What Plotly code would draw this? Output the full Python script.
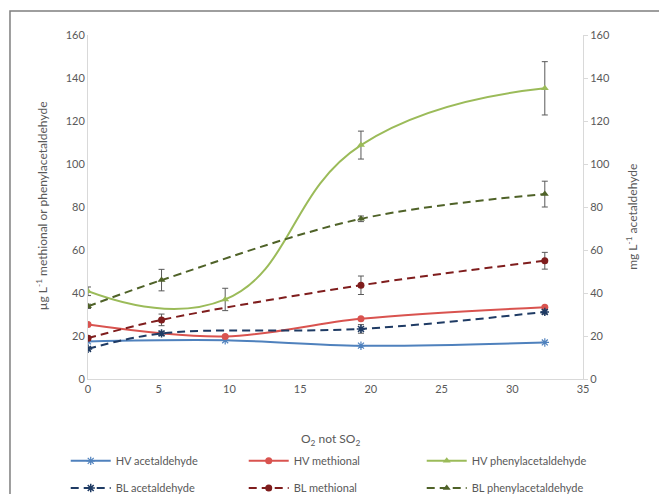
import plotly.graph_objects as go

x_hv = [0, 9.7, 19.3, 32.3]
x_bl = [0, 5.2, 19.3, 32.3]

hv_acet = [17.5, 18.0, 15.5, 17.0]
hv_meth = [25.3, 19.8, 28.0, 33.4]
hv_phen = [40.8, 37.0, 108.8, 135.2]
hv_phen_err = [2.0, 5.2, 6.5, 12.4]

bl_acet = [14.0, 21.2, 23.3, 31.2]
bl_acet_err = [0.8, 1.0, 2.0, 1.0]
bl_meth = [19.0, 27.5, 43.6, 55.0]
bl_meth_err = [1.0, 2.7, 4.3, 3.9]
bl_phen = [33.8, 46.0, 74.5, 86.0]
bl_phen_err = [1.0, 5.0, 1.3, 6.0]

names = ["HV acetaldehyde", "HV methional", "HV phenylacetaldehyde",
         "BL acetaldehyde", "BL methional", "BL phenylacetaldehyde"]

c_hv_acet = "#4f81bd"
c_hv_meth = "#d9534f"
c_hv_phen = "#9bbb59"
c_bl_acet = "#1f3b64"
c_bl_meth = "#7f1d1d"
c_bl_phen = "#4f6228"
err_col = "#595959"
dash = "8px,5px"

fig = go.Figure()

def err(vals):
    return dict(type="data", array=vals, visible=True, color=err_col, thickness=1, width=3)

fig.add_trace(go.Scatter(x=x_hv, y=hv_acet, name=names[0], mode="lines+markers", legend="legend",
                         line=dict(color=c_hv_acet, width=2, shape="spline", smoothing=1),
                         marker=dict(symbol="asterisk-open", size=7, color=c_hv_acet, line=dict(color=c_hv_acet, width=1.2))))
fig.add_trace(go.Scatter(x=x_hv, y=hv_meth, name=names[1], mode="lines+markers", legend="legend",
                         line=dict(color=c_hv_meth, width=2, shape="spline", smoothing=1),
                         marker=dict(symbol="circle", size=7, color=c_hv_meth)))
fig.add_trace(go.Scatter(x=x_hv, y=hv_phen, name=names[2], mode="lines+markers", legend="legend",
                         error_y=err(hv_phen_err),
                         line=dict(color=c_hv_phen, width=2, shape="spline", smoothing=1.3),
                         marker=dict(symbol="triangle-up", size=7, color=c_hv_phen)))
fig.add_trace(go.Scatter(x=x_bl, y=bl_acet, name=names[3], mode="lines+markers", legend="legend2",
                         error_y=err(bl_acet_err),
                         line=dict(color=c_bl_acet, width=2, dash=dash, shape="spline", smoothing=1),
                         marker=dict(symbol="asterisk-open", size=7, color=c_bl_acet, line=dict(color=c_bl_acet, width=1.5))))
fig.add_trace(go.Scatter(x=x_bl, y=bl_meth, name=names[4], mode="lines+markers", legend="legend2",
                         error_y=err(bl_meth_err),
                         line=dict(color=c_bl_meth, width=2, dash=dash, shape="spline", smoothing=1),
                         marker=dict(symbol="circle", size=7, color=c_bl_meth)))
fig.add_trace(go.Scatter(x=x_bl, y=bl_phen, name=names[5], mode="lines+markers", legend="legend2",
                         error_y=err(bl_phen_err),
                         line=dict(color=c_bl_phen, width=2, dash=dash, shape="spline", smoothing=1),
                         marker=dict(symbol="triangle-up", size=7, color=c_bl_phen)))

# invisible trace for right axis
fig.add_trace(go.Scatter(x=[0], y=[0], yaxis="y2", showlegend=False, hoverinfo="skip",
                         mode="markers", marker=dict(opacity=0)))

tickfont = dict(family="Lato, Open Sans, sans-serif", size=11, color="#595959")
legfont = dict(family="Lato, Open Sans, sans-serif", size=11, color="#595959")

fig.update_layout(
    width=659, height=494,
    margin=dict(l=88, r=76, t=35, b=115, autoexpand=False),
    plot_bgcolor="white", paper_bgcolor="white",
    font=dict(family="Lato, Open Sans, sans-serif", size=11, color="#595959"),
    xaxis=dict(range=[0, 35], tickvals=[0, 5, 10, 15, 20, 25, 30, 35], showgrid=False,
               zeroline=False, showline=True, linecolor="#d9d9d9", linewidth=1,
               ticks="", tickfont=tickfont),
    yaxis=dict(range=[0, 160], tickvals=list(range(0, 161, 20)), showgrid=False,
               zeroline=False, showline=True, linecolor="#d9d9d9", linewidth=1,
               ticks="", tickfont=tickfont),
    yaxis2=dict(range=[0, 160], tickvals=list(range(0, 161, 20)), overlaying="y", side="right",
                showgrid=False, zeroline=False, showline=True, linecolor="#d9d9d9", linewidth=1,
                ticks="outside", ticklen=4, tickcolor="#d9d9d9", tickfont=tickfont),
    legend=dict(orientation="h", x=-0.045, y=-0.238, xanchor="left", yanchor="middle",
                entrywidth=123, entrywidthmode="pixels", font=legfont, itemwidth=40),
    legend2=dict(orientation="h", x=-0.045, y=-0.317, xanchor="left", yanchor="middle",
                 entrywidth=123, entrywidthmode="pixels", font=legfont, itemwidth=40),
    showlegend=True,
)

fig.add_annotation(text="O<sub>2</sub> not SO<sub>2</sub>", xref="paper", yref="paper",
                   x=0.49, y=-0.177, xanchor="center", yanchor="middle", showarrow=False,
                   font=dict(size=12, color="#595959"))
fig.add_annotation(text="µg L<sup>-1</sup> methional or phenylacetaldehyde", xref="paper", yref="paper",
                   x=-0.093, y=0.505, xanchor="center", yanchor="middle", textangle=-90, showarrow=False,
                   font=dict(size=12, color="#595959"))
fig.add_annotation(text="mg L<sup>-1</sup> acetaldehyde", xref="paper", yref="paper",
                   x=1.1, y=0.47, xanchor="center", yanchor="middle", textangle=-90, showarrow=False,
                   font=dict(size=12, color="#595959"))

fig.add_shape(type="rect", xref="paper", yref="paper", x0=-0.1576, y0=-0.5, x1=1.3, y1=1.0698,
              line=dict(color="#7f7f7f", width=1.5), fillcolor="rgba(0,0,0,0)", layer="below")

fig.write_html("out.html")
